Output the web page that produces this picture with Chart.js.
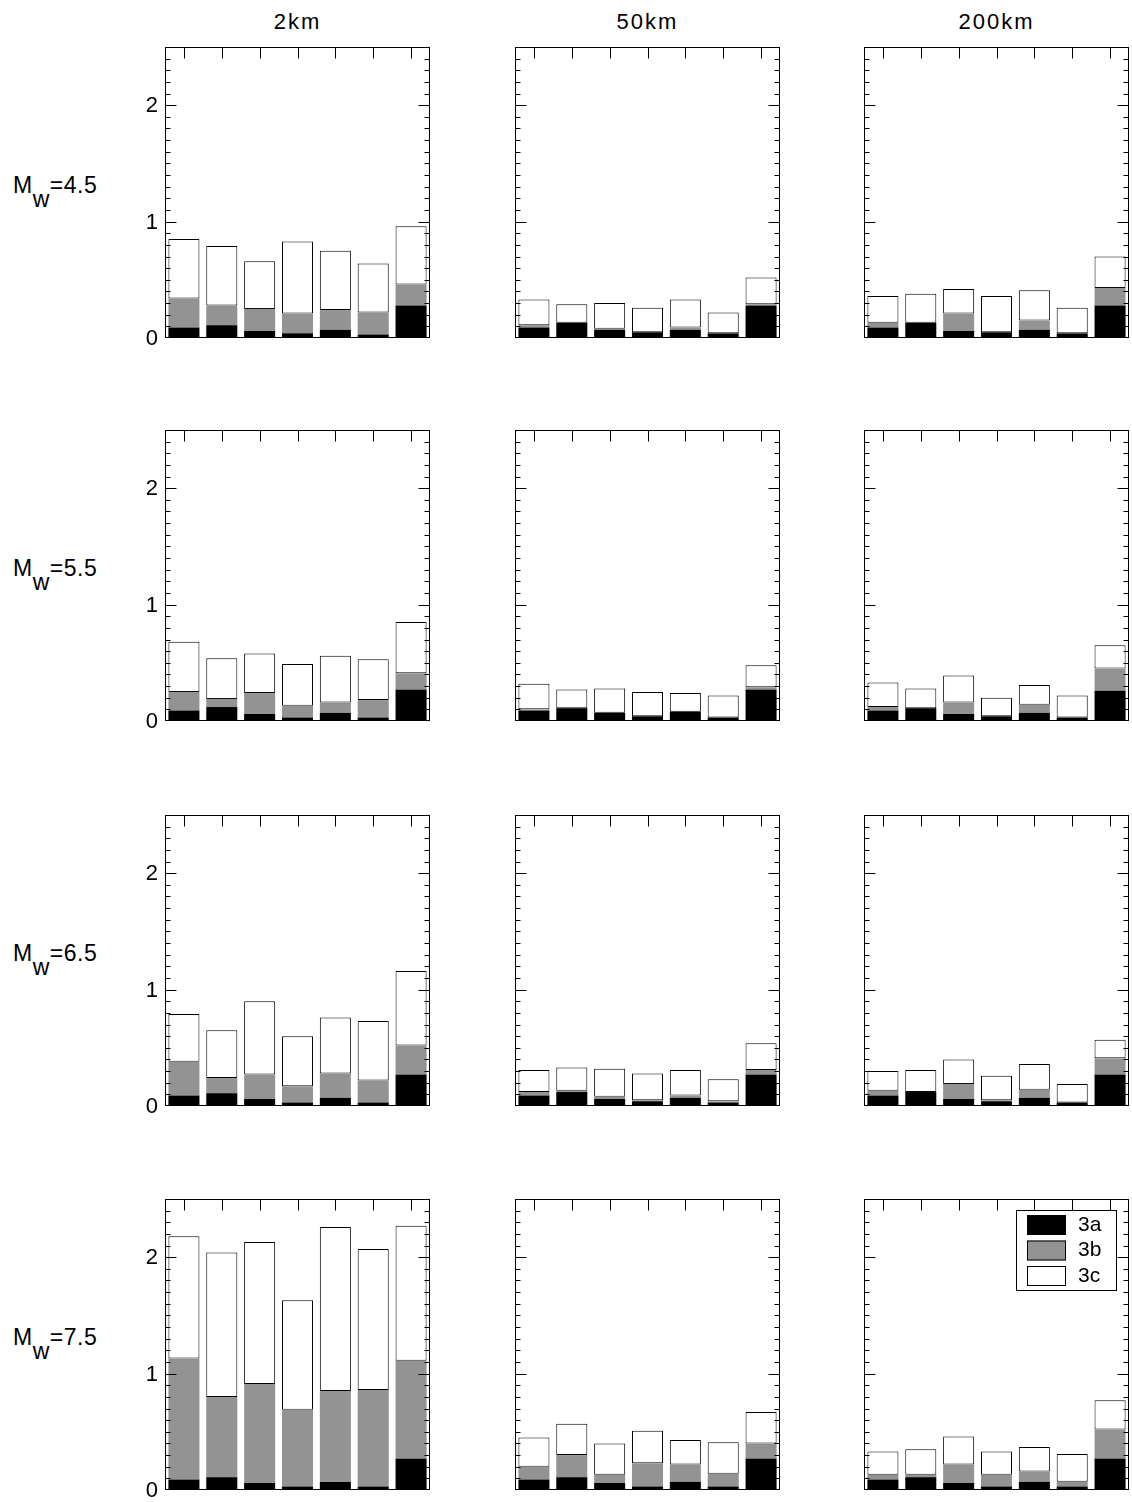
<!DOCTYPE html>
<html>
<head>
<meta charset="utf-8">
<script src="https://cdn.jsdelivr.net/npm/chart.js@4.4.0/dist/chart.umd.min.js"></script>
<style>
  html, body { margin: 0; padding: 0; background: #fff; }
  body { width: 1132px; height: 1502px; position: relative; overflow: hidden;
         font-family: "Liberation Sans", Arial, Helvetica, sans-serif; color: #000; }
  canvas { position: absolute; }
  .coltitle { position: absolute; width: 265px; text-align: center; font-size: 22px; line-height: 22px; letter-spacing: 2px; }
  .rowlabel { position: absolute; left: 13px; font-size: 23px; line-height: 23px; white-space: nowrap; letter-spacing: 0.5px; }
  .rowlabel sub { font-size: 23px; vertical-align: -14px; line-height: 0; }
</style>
</head>
<body>
<script>
// Categories along each panel (seven bars per panel)
const categories = ['1', '2', '3', '4', '5', '6', '7'];
const distances = ['2km', '50km', '200km'];
const magnitudes = ['4.5', '5.5', '6.5', '7.5'];
const seriesNames = ['3a', '3b', '3c'];
const yTicks = [0, 1, 2];

// Mw = 4.5
const s3a_M45_2km   = [0.09, 0.11, 0.06, 0.04, 0.07, 0.03, 0.28];
const s3b_M45_2km   = [0.25, 0.17, 0.19, 0.17, 0.17, 0.19, 0.18];
const s3c_M45_2km   = [0.51, 0.51, 0.41, 0.62, 0.51, 0.42, 0.50];
const s3a_M45_50km  = [0.09, 0.13, 0.07, 0.05, 0.07, 0.04, 0.28];
const s3b_M45_50km  = [0.02, 0.00, 0.01, 0.00, 0.02, 0.00, 0.01];
const s3c_M45_50km  = [0.22, 0.16, 0.22, 0.21, 0.24, 0.18, 0.23];
const s3a_M45_200km = [0.09, 0.13, 0.06, 0.05, 0.07, 0.04, 0.28];
const s3b_M45_200km = [0.04, 0.00, 0.15, 0.00, 0.08, 0.00, 0.15];
const s3c_M45_200km = [0.23, 0.25, 0.21, 0.31, 0.26, 0.22, 0.27];

// Mw = 5.5
const s3a_M55_2km   = [0.09, 0.12, 0.06, 0.03, 0.07, 0.03, 0.27];
const s3b_M55_2km   = [0.16, 0.07, 0.18, 0.10, 0.09, 0.15, 0.14];
const s3c_M55_2km   = [0.43, 0.35, 0.34, 0.36, 0.40, 0.35, 0.44];
const s3a_M55_50km  = [0.09, 0.11, 0.07, 0.04, 0.08, 0.03, 0.27];
const s3b_M55_50km  = [0.01, 0.00, 0.00, 0.00, 0.00, 0.00, 0.02];
const s3c_M55_50km  = [0.22, 0.16, 0.21, 0.21, 0.16, 0.19, 0.19];
const s3a_M55_200km = [0.09, 0.11, 0.06, 0.04, 0.07, 0.03, 0.26];
const s3b_M55_200km = [0.03, 0.00, 0.10, 0.00, 0.07, 0.00, 0.19];
const s3c_M55_200km = [0.21, 0.17, 0.23, 0.16, 0.17, 0.19, 0.20];

// Mw = 6.5
const s3a_M65_2km   = [0.09, 0.11, 0.06, 0.03, 0.07, 0.03, 0.27];
const s3b_M65_2km   = [0.29, 0.13, 0.21, 0.14, 0.21, 0.19, 0.25];
const s3c_M65_2km   = [0.41, 0.41, 0.63, 0.43, 0.48, 0.51, 0.64];
const s3a_M65_50km  = [0.09, 0.12, 0.06, 0.04, 0.07, 0.03, 0.27];
const s3b_M65_50km  = [0.03, 0.01, 0.02, 0.01, 0.02, 0.01, 0.04];
const s3c_M65_50km  = [0.19, 0.20, 0.24, 0.23, 0.22, 0.19, 0.23];
const s3a_M65_200km = [0.09, 0.12, 0.06, 0.04, 0.07, 0.03, 0.27];
const s3b_M65_200km = [0.04, 0.00, 0.13, 0.01, 0.07, 0.00, 0.14];
const s3c_M65_200km = [0.17, 0.19, 0.21, 0.21, 0.22, 0.16, 0.16];

// Mw = 7.5
const s3a_M75_2km   = [0.09, 0.11, 0.06, 0.03, 0.07, 0.03, 0.27];
const s3b_M75_2km   = [1.04, 0.69, 0.85, 0.66, 0.78, 0.83, 0.84];
const s3c_M75_2km   = [1.05, 1.24, 1.22, 0.94, 1.41, 1.21, 1.16];
const s3a_M75_50km  = [0.09, 0.11, 0.06, 0.03, 0.07, 0.03, 0.27];
const s3b_M75_50km  = [0.11, 0.19, 0.07, 0.20, 0.15, 0.11, 0.13];
const s3c_M75_50km  = [0.25, 0.27, 0.27, 0.28, 0.21, 0.27, 0.27];
const s3a_M75_200km = [0.09, 0.11, 0.06, 0.03, 0.07, 0.03, 0.27];
const s3b_M75_200km = [0.04, 0.02, 0.16, 0.10, 0.09, 0.04, 0.25];
const s3c_M75_200km = [0.20, 0.22, 0.24, 0.20, 0.21, 0.24, 0.25];

const panelSeries = [
  [[s3a_M45_2km, s3b_M45_2km, s3c_M45_2km], [s3a_M45_50km, s3b_M45_50km, s3c_M45_50km], [s3a_M45_200km, s3b_M45_200km, s3c_M45_200km]],
  [[s3a_M55_2km, s3b_M55_2km, s3c_M55_2km], [s3a_M55_50km, s3b_M55_50km, s3c_M55_50km], [s3a_M55_200km, s3b_M55_200km, s3c_M55_200km]],
  [[s3a_M65_2km, s3b_M65_2km, s3c_M65_2km], [s3a_M65_50km, s3b_M65_50km, s3c_M65_50km], [s3a_M65_200km, s3b_M65_200km, s3c_M65_200km]],
  [[s3a_M75_2km, s3b_M75_2km, s3c_M75_2km], [s3a_M75_50km, s3b_M75_50km, s3c_M75_50km], [s3a_M75_200km, s3b_M75_200km, s3c_M75_200km]]
];

// Page layout of the panel grid
const colLeft = [165, 515, 864];
const rowTop = [47, 430, 815, 1199];
const panelW = 265, panelH = 291;
const padL = 40, padR = 6, padT = 6, padB = 14;
const fills = ['#000000', '#939393', '#ffffff'];
const FONT = '"Liberation Sans", Arial, Helvetica, sans-serif';

// Frame, inward ticks on all sides, y labels and the in-panel legend
const framePlugin = {
  id: 'frameTicks',
  afterDraw(chart, args, opts) {
    const { ctx, chartArea: a, scales: { x, y } } = chart;
    ctx.save();
    ctx.strokeStyle = '#000';
    ctx.lineWidth = 1;
    const L = a.left + 0.5, R = a.right - 0.5, T = a.top + 0.5, B = a.bottom - 0.5;
    ctx.strokeRect(L, T, R - L, B - T);
    ctx.beginPath();
    for (let k = 1; k < 25; k++) {
      const v = k / 10;
      const py = Math.round(y.getPixelForValue(v)) + 0.5;
      const len = (k % 10 === 0) ? 11 : 5;
      ctx.moveTo(L, py); ctx.lineTo(L + len, py);
      ctx.moveTo(R, py); ctx.lineTo(R - len, py);
    }
    categories.forEach((c, i) => {
      const px = Math.round(x.getPixelForValue(i)) + 0.5;
      ctx.moveTo(px, T); ctx.lineTo(px, T + 11);
    });
    ctx.stroke();

    if (opts.labels) {
      ctx.fillStyle = '#000';
      ctx.font = '22px ' + FONT;
      ctx.textAlign = 'right';
      ctx.textBaseline = 'middle';
      yTicks.forEach(v => ctx.fillText(String(v), a.left - 7, y.getPixelForValue(v) + 1));
    }

    if (opts.legend) {
      const bx = a.right - 113, by = a.top + 11, bw = 101, bh = 81;
      ctx.fillStyle = '#fff';
      ctx.fillRect(bx, by, bw, bh);
      ctx.strokeRect(bx + 0.5, by + 0.5, bw - 1, bh - 1);
      ctx.font = '21px ' + FONT;
      ctx.textAlign = 'left';
      ctx.textBaseline = 'middle';
      chart.data.datasets.forEach((ds, i) => {
        const sy = by + 5 + i * 25.5;
        ctx.fillStyle = ds.backgroundColor;
        ctx.fillRect(bx + 11, sy, 39, 20);
        ctx.strokeRect(bx + 11.5, sy + 0.5, 38, 19);
        ctx.fillStyle = '#000';
        ctx.fillText(ds.label, bx + 62, sy + 10);
      });
    }
    ctx.restore();
  }
};

function makePanel(r, c) {
  const cv = document.createElement('canvas');
  const w = padL + panelW + padR, h = padT + panelH + padB;
  cv.width = w; cv.height = h;
  cv.style.width = w + 'px'; cv.style.height = h + 'px';
  cv.style.left = (colLeft[c] - padL) + 'px';
  cv.style.top = (rowTop[r] - padT) + 'px';
  document.body.appendChild(cv);

  const series = panelSeries[r][c];
  new Chart(cv.getContext('2d'), {
    type: 'bar',
    data: {
      labels: categories,
      datasets: seriesNames.map((name, i) => ({
        label: name,
        data: series[i],
        backgroundColor: fills[i],
        borderColor: '#000',
        borderWidth: i === 2 ? 1 : 0,
        borderSkipped: false,
        barPercentage: 0.82,
        categoryPercentage: 1.0
      }))
    },
    options: {
      responsive: false,
      animation: false,
      devicePixelRatio: 1,
      layout: { padding: { left: padL, right: padR, top: padT, bottom: padB } },
      scales: {
        x: { display: false, stacked: true, offset: true },
        y: { display: false, stacked: true, min: 0, max: 2.5 }
      },
      plugins: {
        legend: { display: false },
        tooltip: { enabled: false },
        frameTicks: { labels: c === 0, legend: r === 3 && c === 2 }
      }
    },
    plugins: [framePlugin]
  });
}

// Column titles
distances.forEach((d, c) => {
  const el = document.createElement('div');
  el.className = 'coltitle';
  el.style.left = colLeft[c] + 'px';
  el.style.top = '11px';
  el.textContent = d;
  document.body.appendChild(el);
});

// Row labels
magnitudes.forEach((m, r) => {
  const el = document.createElement('div');
  el.className = 'rowlabel';
  el.style.top = (rowTop[r] + 127) + 'px';
  el.innerHTML = 'M<sub>w</sub>=' + m;
  document.body.appendChild(el);
});

for (let r = 0; r < 4; r++) for (let c = 0; c < 3; c++) makePanel(r, c);
</script>
</body>
</html>
